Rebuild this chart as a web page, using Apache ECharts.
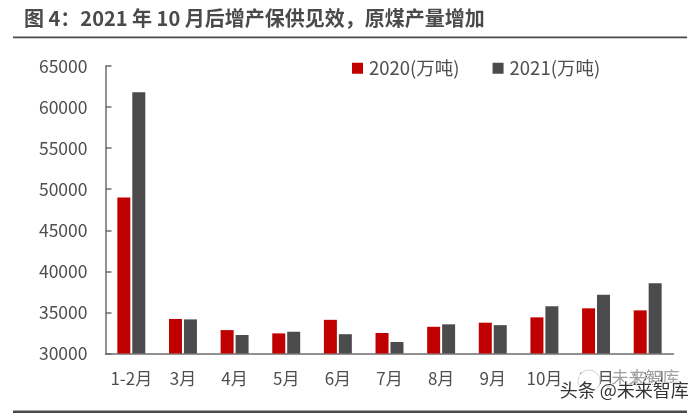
<!DOCTYPE html>
<html><head><meta charset="utf-8">
<style>html,body{margin:0;padding:0;background:#fff}#c{width:700px;height:413px}</style>
<script src="https://cdn.jsdelivr.net/npm/echarts@6/dist/echarts.min.js"></script>
</head><body><div id="c"></div>
<script>
const categories=['1-2月','3月','4月','5月','6月','7月','8月','9月','10月','11月','12月'];
const values2020=[49000,34200,32850,32450,34100,32500,33250,33750,34400,35500,35250];
const values2021=[61800,34150,32250,32650,32350,31400,33550,33450,35750,37150,38550];
const font='"Noto Sans CJK SC","Open Sans",sans-serif';
const chart=echarts.init(document.getElementById('c'),null,{renderer:'canvas'});
const axisCol='#6e6e6e', textCol='#4f4f4f';
chart.setOption({
 animation:false,
 grid:{left:105.5,right:26.5,top:66,bottom:59.5,containLabel:false},
 legend:{top:54,left:347,itemWidth:11,itemHeight:11,itemGap:33,icon:'rect',
  textStyle:{fontFamily:font,fontSize:18.5,color:textCol,padding:[0,0,0,1]},
  data:['2020(万吨)','2021(万吨)']},
 xAxis:{type:'category',data:categories,
  axisLine:{lineStyle:{color:axisCol,width:1.5}},axisTick:{show:false},
  axisLabel:{fontFamily:font,fontSize:17,color:textCol,margin:17,interval:0}},
 yAxis:{type:'value',min:30000,max:65000,interval:5000,
  axisLine:{show:true,lineStyle:{color:axisCol,width:1.5}},
  axisTick:{show:true,inside:true,length:6,lineStyle:{color:axisCol,width:1.5}},
  splitLine:{show:false},
  axisLabel:{fontFamily:font,fontSize:17.5,color:textCol,margin:18,formatter:function(v){return String(v);}}},
 series:[
  {name:'2020(万吨)',type:'bar',data:values2020,barWidth:13,barGap:'15%',itemStyle:{color:'#c00000'}},
  {name:'2021(万吨)',type:'bar',data:values2021,barWidth:13,barGap:'15%',itemStyle:{color:'#4b4b4d'}}
 ],
 graphic:[
  {type:'text',left:24,top:8,style:{text:'图 4：2021 年 10 月后增产保供见效，原煤产量增加',fontFamily:font,fontWeight:'bold',fontSize:20,fill:'#4a4a4a'}},
  {type:'rect',shape:{x:13,y:36.5,width:674,height:1.8},style:{fill:'#4a4a4a'}},
  {type:'rect',shape:{x:13,y:410.5,width:674,height:2.5},style:{fill:'#4a4a4a'}},
  {type:'circle',z:100,shape:{cx:589,cy:381,r:11},style:{fill:'#fff',stroke:'#d5d5d5',lineWidth:1}},
  {type:'text',z:101,left:611,top:369,style:{text:'未来智库',fontFamily:font,fontSize:17,fill:'rgba(150,150,150,0.9)',stroke:'#fff',lineWidth:1}},
  {type:'text',z:102,left:559,top:380,style:{text:'头条 @未来智库',fontFamily:font,fontSize:18,fill:'#333',stroke:'#fff',lineWidth:1.5}}
 ]
});
</script></body></html>
